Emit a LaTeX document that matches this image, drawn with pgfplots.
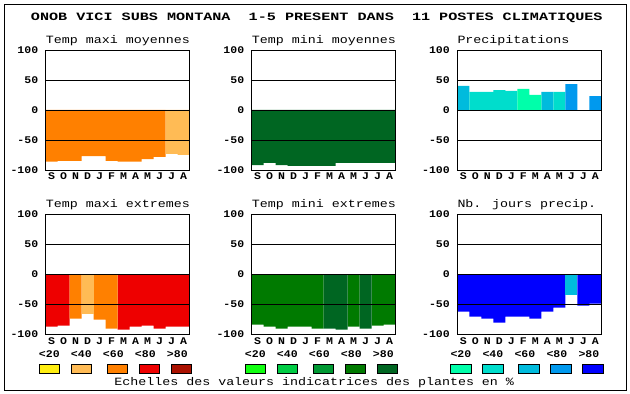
\documentclass[border=0pt]{standalone}
\usepackage{fontspec}
\usepackage{pgfplots}
\pgfplotsset{compat=1.18}
\newfontfamily\ttlfont[FakeStretch=1.35]{Liberation Mono}
\newfontfamily\ptlfont[FakeStretch=1.2]{Liberation Mono}
\newfontfamily\tkfont[FakeStretch=1.13]{Liberation Mono}
\newcommand\TitleF{\ttlfont\bfseries\fontsize{11.2}{13}\selectfont}
\newcommand\PanelF{\ptlfont\fontsize{11.1}{13}\selectfont}
\newcommand\TickF{\tkfont\bfseries\fontsize{10.2}{12}\selectfont}
\definecolor{cYe}{HTML}{FFEE11}
\definecolor{cLOr}{HTML}{FFBB55}
\definecolor{cOr}{HTML}{FF8000}
\definecolor{cRe}{HTML}{EE0000}
\definecolor{cDRe}{HTML}{AA1100}
\definecolor{cG1}{HTML}{11FF11}
\definecolor{cG2}{HTML}{00CC44}
\definecolor{cG3}{HTML}{009933}
\definecolor{cG4}{HTML}{007A00}
\definecolor{cG5}{HTML}{006622}
\definecolor{cB1}{HTML}{00FFAA}
\definecolor{cB2}{HTML}{00DDCC}
\definecolor{cB3}{HTML}{00BBDD}
\definecolor{cB4}{HTML}{0099EE}
\definecolor{cB5}{HTML}{0000FF}
\pgfplotsset{
  panel/.style={
    width=144pt, height=120pt, scale only axis,
    xmin=0, xmax=12, ymin=-100, ymax=100,
    axis on top,
    ytick={-100,-50,0,50,100},
    yticklabels={-100,-50,0,50,100},
    ymajorgrids, grid style={black, line width=0.9pt},
    axis line style={black, line width=0.9pt},
    major tick length=0pt,
    xtick={0.5,1.5,2.5,3.5,4.5,5.5,6.5,7.5,8.5,9.5,10.5,11.5},
    xticklabels={S,O,N,D,J,F,M,A,M,J,J,A},
    yticklabel style={font=\TickF, anchor=east, inner sep=0pt, xshift=-7.3pt},
    xticklabel style={font=\TickF, anchor=base, inner sep=0pt, yshift=-10pt},
    anchor=north west,
  },
  bb/.style={ybar, bar width=1, bar shift=0pt, draw=none, fill=#1},
}
\begin{document}
\begin{tikzpicture}[x=1pt,y=1pt]
\useasboundingbox (0,0) rectangle (630,394);
\draw[line width=0.9pt] (4.5,3.5) rectangle (626.5,389.5);
\node[anchor=base, inner sep=0pt] at (316.8,373.3) {\TitleF ONOB VICI SUBS MONTANA\ \ 1-5 PRESENT DANS\ \ 11 POSTES CLIMATIQUES};
% ---- top row
\node[anchor=base west, inner sep=0pt] at (45.7,350.7) {\PanelF Temp maxi moyennes};
\node[anchor=base west, inner sep=0pt] at (251.7,350.7) {\PanelF Temp mini moyennes};
\node[anchor=base west, inner sep=0pt] at (457.3,350.7) {\PanelF Precipitations};
\begin{axis}[panel, at={(45.7pt,344pt)}]
\addplot[bb=cOr] coordinates {(0.5,-86.1)(1.5,-85)(2.5,-85)(3.5,-76.7)(4.5,-76.7)(5.5,-85)(6.5,-86.1)(7.5,-86.1)(8.5,-81.7)(9.5,-78.3)};
\addplot[bb=cLOr] coordinates {(10.5,-73.3)(11.5,-75)};
\end{axis}
\begin{axis}[panel, at={(251.7pt,344pt)}]
\addplot[bb=cG5] coordinates {(0.5,-91.7)(1.5,-88.3)(2.5,-91.7)(3.5,-93.3)(4.5,-93.3)(5.5,-93.3)(6.5,-93.3)(7.5,-88.3)(8.5,-88.3)(9.5,-88.3)(10.5,-88.3)(11.5,-88.3)};
\end{axis}
\begin{axis}[panel, at={(457.3pt,344pt)}]
\addplot[bb=cB3] coordinates {(0.5,40)(7.5,30)};
\addplot[bb=cB2] coordinates {(1.5,30)(2.5,30)(3.5,33.3)(4.5,31.7)(8.5,30)};
\addplot[bb=cB1] coordinates {(5.5,35)(6.5,25)};
\addplot[bb=cB4] coordinates {(9.5,43.3)(11.5,23.3)};
\end{axis}
% ---- bottom row
\node[anchor=base west, inner sep=0pt] at (45.7,186.7) {\PanelF Temp maxi extremes};
\node[anchor=base west, inner sep=0pt] at (251.7,186.7) {\PanelF Temp mini extremes};
\node[anchor=base west, inner sep=0pt] at (457.3,186.7) {\PanelF Nb. jours precip.};
\begin{axis}[panel, at={(45.7pt,179.7pt)}]
\addplot[bb=cRe] coordinates {(0.5,-87.2)(1.5,-85.6)(6.5,-92.2)(7.5,-87.2)(8.5,-85.6)(9.5,-90.6)(10.5,-87.2)(11.5,-87.2)};
\addplot[bb=cOr] coordinates {(2.5,-73.9)(4.5,-75.6)(5.5,-90.6)};
\addplot[bb=cLOr] coordinates {(3.5,-65.6)};
\end{axis}
\begin{axis}[panel, at={(251.7pt,179.7pt)}]
\addplot[bb=cG4] coordinates {(0.5,-83.9)(1.5,-87.2)(2.5,-90.6)(3.5,-87.2)(4.5,-87.2)(5.5,-90.6)(8.5,-87.2)(10.5,-85.6)(11.5,-83.9)};
\addplot[bb=cG5] coordinates {(6.5,-90.6)(7.5,-92.2)(9.5,-90.6)};
\end{axis}
\begin{axis}[panel, at={(457.3pt,179.7pt)}]
\addplot[bb=cB5] coordinates {(0.5,-62.2)(1.5,-70.6)(2.5,-73.9)(3.5,-80.6)(4.5,-70.6)(5.5,-70.6)(6.5,-73.9)(7.5,-62.2)(8.5,-55.6)(10.5,-52.2)(11.5,-48.9)};
\addplot[bb=cB3] coordinates {(9.5,-33.9)};
\end{axis}
% ---- scale legend
\foreach \L/\ca/\cb/\cc/\cd/\ce in {45.7/cYe/cLOr/cOr/cRe/cDRe, 251.7/cG1/cG2/cG3/cG4/cG5, 457.3/cB1/cB2/cB3/cB4/cB5}{
  \foreach \t [count=\i from 0] in {<20,<40,<60,<80,>80}{
    \node[anchor=base, inner sep=0pt] at (\L+3.6+32*\i,36) {\TickF \t};
  }
  \foreach \o/\c in {-6.7/\ca, 25.3/\cb, 61.3/\cc, 93.3/\cd, 125.3/\ce}{
    \draw[line width=0.8pt, fill=\c] (\L+\o,20.7) rectangle ++(20.7,9.3);
  }
}
\node[anchor=base, inner sep=0pt] at (314.2,9) {\PanelF Echelles des valeurs indicatrices des plantes en \%};
\end{tikzpicture}
\end{document}
